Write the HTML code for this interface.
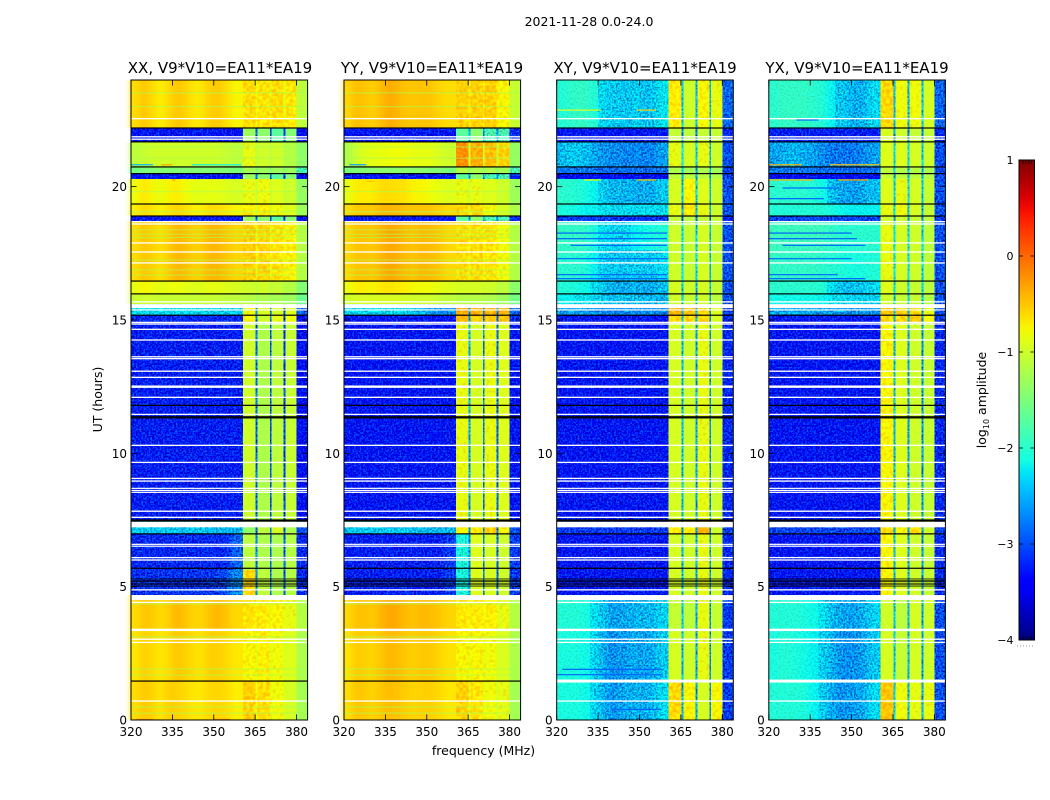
<!DOCTYPE html>
<html lang="en">
<head>
<meta charset="utf-8">
<title>2021-11-28 0.0-24.0</title>
<style>
html,body{margin:0;padding:0;background:#fff;}
svg{display:block;font-family:"DejaVu Sans","Liberation Sans",sans-serif;fill:#000;}
</style>
</head>
<body>
<svg id="figure" xmlns="http://www.w3.org/2000/svg" width="1050" height="800" viewBox="0 0 1050 800">
<defs>
<filter id="speckle" filterUnits="userSpaceOnUse" x="0" y="0" width="1050" height="800" color-interpolation-filters="sRGB">
<feTurbulence type="fractalNoise" baseFrequency="0.55" numOctaves="2" seed="4" result="t"/>
<feColorMatrix in="t" type="matrix" values="0 0 0 0 .5  2.6 0 0 0 -.8  2.6 0 0 0 -.8  0 0 0 0 1" result="n"/>
<feComposite in="SourceGraphic" in2="n" operator="arithmetic" k1="0" k2="1" k3=".55" k4="-.275" result="m"/>
<feComposite in="m" in2="SourceGraphic" operator="in"/>
</filter>
<filter id="speckle-soft" filterUnits="userSpaceOnUse" x="0" y="0" width="1050" height="800" color-interpolation-filters="sRGB">
<feGaussianBlur in="SourceGraphic" stdDeviation="3.5 0" result="b"/>
<feMerge result="s"><feMergeNode in="SourceGraphic"/><feMergeNode in="b"/></feMerge>
<feTurbulence type="fractalNoise" baseFrequency="0.55" numOctaves="2" seed="4" result="t"/>
<feColorMatrix in="t" type="matrix" values="0 0 0 0 .5  2.6 0 0 0 -.8  2.6 0 0 0 -.8  0 0 0 0 1" result="n"/>
<feComposite in="s" in2="n" operator="arithmetic" k1="0" k2="1" k3=".55" k4="-.275" result="m"/>
<feComposite in="m" in2="SourceGraphic" operator="in"/>
</filter>
<filter id="speckle-mild" filterUnits="userSpaceOnUse" x="0" y="0" width="1050" height="800" color-interpolation-filters="sRGB">
<feGaussianBlur in="SourceGraphic" stdDeviation="3.5 0" result="b"/>
<feMerge result="s"><feMergeNode in="SourceGraphic"/><feMergeNode in="b"/></feMerge>
<feTurbulence type="fractalNoise" baseFrequency="0.55" numOctaves="2" seed="7" result="t"/>
<feColorMatrix in="t" type="matrix" values="0 0 0 0 .5  2.6 0 0 0 -.8  2.6 0 0 0 -.8  0 0 0 0 1" result="n"/>
<feComposite in="s" in2="n" operator="arithmetic" k1="0" k2="1" k3=".2" k4="-.1" result="m"/>
<feComposite in="m" in2="SourceGraphic" operator="in"/>
</filter>
<filter id="soften" filterUnits="userSpaceOnUse" x="0" y="0" width="1050" height="800" color-interpolation-filters="sRGB">
<feGaussianBlur in="SourceGraphic" stdDeviation="3.5 0" result="b"/>
<feMerge><feMergeNode in="SourceGraphic"/><feMergeNode in="b"/></feMerge>
</filter>
<filter id="mottle" filterUnits="userSpaceOnUse" x="0" y="0" width="1050" height="800" color-interpolation-filters="sRGB">
<feTurbulence type="fractalNoise" baseFrequency="0.3" numOctaves="1" seed="9" result="t"/>
<feColorMatrix in="t" type="matrix" values="0 0 0 0 .5  2.4 0 0 0 -.7  0 0 0 0 .5  0 0 0 0 1" result="n"/>
<feComposite in="SourceGraphic" in2="n" operator="arithmetic" k1="0" k2="1" k3=".22" k4="-.11" result="m"/>
<feComposite in="m" in2="SourceGraphic" operator="in"/>
</filter>
<linearGradient id="jet-gradient" x1="0" y1="1" x2="0" y2="0"></linearGradient>
</defs>
<rect x="0" y="0" width="1050" height="800" fill="#fff"/>
<g id="panels"></g>
<g id="colorbar"></g>
<text x="589" y="26" font-size="12.5" text-anchor="middle">2021-11-28 0.0-24.0</text>
<text x="220" y="73" font-size="15" text-anchor="middle">XX, V9*V10=EA11*EA19</text>
<text x="432" y="73" font-size="15" text-anchor="middle">YY, V9*V10=EA11*EA19</text>
<text x="645" y="73" font-size="15" text-anchor="middle">XY, V9*V10=EA11*EA19</text>
<text x="857" y="73" font-size="15" text-anchor="middle">YX, V9*V10=EA11*EA19</text>
<text x="483.5" y="755" font-size="12.5" text-anchor="middle">frequency (MHz)</text>
<text transform="translate(102,399.5) rotate(-90)" font-size="12.5" text-anchor="middle">UT (hours)</text>
<text transform="translate(986,400) rotate(-90)" font-size="12.5" text-anchor="middle">log<tspan font-size="8" dy="3">10</tspan><tspan dy="-3"> amplitude</tspan></text>
</svg>
<script>
// ---- chart data (log10 amplitude) ----
const freqTicks = [320, 335, 350, 365, 380];
const utTicks = [0, 5, 10, 15, 20];
const colorbarTicks = [-4, -3, -2, -1, 0, 1];
const colorbarLabels = ["\u22124", "\u22123", "\u22122", "\u22121", "0", "1"];
const panelKeys = ["xx", "yy", "xy", "yx"];
const freqEdges = [320,323,326,329,332,335,338,341,344,347,350,353,356,360.5,365.2,365.9,370.3,371,375.3,376,380,384];
const utEdges = [24,23.55,22.95,22.2,21.68,20.74,20.51,20.29,19.35,18.9,18.71,17.63,16.46,15.98,15.6,15.19,14.9,13.5,11.25,9.5,7.5,6.98,5.63,4.69,3.38,1.46,0];

const spectraXX = [
[-.62,-.5,-.6,-.72,-.62,-.5,-.55,-.68,-.68,-.55,-.52,-.62,-.75,-.62,-.8,-.65,-.85,-.62,-.85,-.68,-1.1],
[-3.3,-3.3,-3.3,-3.3,-3.3,-3.3,-3.3,-3.3,-3.3,-3.3,-3.3,-3.3,-3.3,-1.3,-2.9,-1.4,-3,-1.7,-3.1,-1.45,-3.4],
[-1.1,-1.05,-1,-1,-1,-1,-1,-1,-1,-1,-1,-1.05,-1.1,-.85,-1.1,-1,-1.15,-1,-1.2,-1.15,-1.4],
[-1.55,-1.5,-1.45,-1.45,-1.45,-1.45,-1.45,-1.45,-1.45,-1.45,-1.45,-1.45,-1.5,-1.25,-1.5,-1.3,-1.5,-1.3,-1.5,-1.3,-1.85],
[-.8,-.68,-.75,-.85,-.75,-.7,-.78,-.85,-.88,-.85,-.85,-.9,-.95,-.85,-1.05,-.82,-1.05,-.9,-1.1,-1,-1.35],
[-.72,-.6,-.65,-.75,-.65,-.58,-.62,-.72,-.72,-.62,-.62,-.68,-.75,-.72,-.95,-.72,-.95,-.8,-1,-.9,-1.3],
[-.62,-.5,-.55,-.65,-.55,-.42,-.45,-.55,-.55,-.42,-.42,-.5,-.58,-.55,-.75,-.58,-.78,-.65,-.82,-.72,-1.15],
[-.85,-.75,-.8,-.88,-.82,-.8,-.85,-.9,-.9,-.85,-.85,-.9,-.95,-1,-1.1,-1,-1.15,-1.05,-1.2,-1.15,-1.45],
[-1.05,-1,-1,-1.05,-1.05,-1.05,-1.05,-1.05,-1.05,-1.05,-1.05,-1.1,-1.1,-1.15,-1.3,-1.2,-1.3,-1.25,-1.35,-1.3,-1.6],
[-2.25,-2.25,-2.3,-2.3,-2.3,-2.3,-2.3,-2.3,-2.3,-2.35,-2.35,-2.35,-2.4,-.8,-2.7,-.95,-2.8,-.95,-2.8,-.9,-2.9],
[-3.2,-3.2,-3.2,-3.2,-3.2,-3.2,-3.2,-3.2,-3.2,-3.2,-3.2,-3.2,-3.2,-.75,-2.8,-1,-2.9,-.85,-3,-.8,-3.3],
[-3.25,-3.25,-3.25,-3.25,-3.25,-3.25,-3.25,-3.25,-3.25,-3.25,-3.25,-3.25,-3.25,-1,-2.9,-1.2,-3,-1.1,-3.1,-1.05,-3.35],
[-2.4,-2.4,-2.4,-2.4,-2.4,-2.4,-2.4,-2.4,-2.4,-2.45,-2.45,-2.5,-2.5,-1.35,-2.9,-1.1,-2.8,-.95,-2.9,-1.2,-3],
[-3.2,-3.2,-3.2,-3.2,-3.2,-3.2,-3.2,-3.2,-3.2,-3.2,-3.2,-3.2,-2.9,-1.1,-2.8,-1.2,-2.9,-1.2,-3,-1.15,-3.2],
[-3.15,-3.15,-3.15,-3.15,-3.15,-3.15,-3.15,-3.15,-3.15,-3.1,-3.1,-3,-2.7,-.6,-2.7,-1.1,-2.9,-1.2,-3,-1.15,-3.2],
[-.62,-.5,-.52,-.62,-.55,-.42,-.48,-.58,-.58,-.48,-.42,-.5,-.6,-.65,-.75,-.7,-.82,-.75,-.85,-.85,-1.15],
[-.68,-.55,-.6,-.68,-.62,-.5,-.55,-.62,-.65,-.55,-.55,-.6,-.68,-.75,-.85,-.72,-.9,-.8,-.95,-.9,-1.2],
[-.62,-.52,-.55,-.68,-.55,-.55,-.6,-.68,-.68,-.6,-.58,-.62,-.72,-.55,-.8,-.62,-.85,-.8,-.95,-.95,-1.25]
];
const rowSpecXX = [0,0,0,1,2,3,1,4,5,1,6,6,7,8,9,10,11,11,11,11,12,13,14,15,16,17];

const spectraYY = [
[-.58,-.45,-.5,-.55,-.45,-.35,-.42,-.5,-.5,-.48,-.5,-.58,-.62,-.55,-.7,-.55,-.7,-.55,-.7,-.75,-1.05],
[-3.3,-3.3,-3.3,-3.3,-3.3,-3.3,-3.3,-3.3,-3.3,-3.3,-3.3,-3.3,-3.3,-1.7,-2.5,-1.4,-2.6,-1.8,-2.6,-1.8,-3.2],
[-1.2,-1,-.9,-.85,-.85,-.8,-.8,-.8,-.85,-.85,-.85,-.95,-1,-.2,-.9,-.38,-.95,-.45,-1,-.55,-1.35],
[-1.5,-1.45,-1.45,-1.4,-1.4,-1.4,-1.4,-1.4,-1.4,-1.4,-1.45,-1.45,-1.5,-1.15,-1.4,-1.2,-1.4,-1.2,-1.4,-1.25,-1.8],
[-.85,-.7,-.7,-.7,-.62,-.62,-.65,-.65,-.75,-.75,-.8,-.85,-.9,-.85,-1,-.85,-1,-.9,-1,-1,-1.3],
[-.62,-.52,-.52,-.52,-.42,-.4,-.42,-.5,-.5,-.5,-.5,-.55,-.6,-.6,-.85,-.6,-.85,-.8,-.95,-.95,-1.2],
[-.6,-.48,-.48,-.52,-.42,-.33,-.38,-.45,-.48,-.42,-.45,-.5,-.6,-.62,-.75,-.62,-.75,-.65,-.75,-.8,-1.15],
[-.8,-.72,-.72,-.75,-.68,-.65,-.7,-.72,-.78,-.78,-.8,-.85,-.9,-.95,-1,-.95,-1.05,-1,-1.1,-1.1,-1.4],
[-1,-.95,-.95,-.95,-.95,-.95,-.95,-.95,-1,-1,-1,-1.05,-1.1,-1.15,-1.2,-1.15,-1.2,-1.2,-1.3,-1.3,-1.55],
[-2.3,-2.3,-2.3,-2.3,-2.3,-2.3,-2.3,-2.35,-2.4,-2.5,-2.6,-2.7,-2.7,-.35,-2.6,-.4,-2.7,-.4,-2.7,-.4,-2.9],
[-3.3,-3.3,-3.3,-3.3,-3.3,-3.3,-3.3,-3.3,-3.3,-3.3,-3.3,-3.3,-3.3,-.45,-2.6,-.55,-2.8,-.5,-2.9,-.5,-3.2],
[-3.3,-3.3,-3.3,-3.3,-3.3,-3.3,-3.3,-3.3,-3.3,-3.3,-3.3,-3.3,-3.3,-.85,-2.6,-.95,-2.8,-.85,-2.9,-.9,-3.3],
[-2.4,-2.4,-2.4,-2.4,-2.4,-2.4,-2.4,-2.4,-2.45,-2.45,-2.5,-2.5,-2.5,-.75,-2.6,-.7,-2.7,-.55,-2.8,-.75,-3],
[-3.25,-3.25,-3.25,-3.25,-3.25,-3.25,-3.25,-3.25,-3.25,-3.25,-3.25,-3.25,-3.1,-2.1,-2.7,-.9,-2.8,-.95,-2.9,-1,-3.1],
[-.6,-.48,-.48,-.52,-.42,-.33,-.36,-.45,-.48,-.42,-.45,-.5,-.58,-.68,-.75,-.7,-.8,-.72,-.85,-.85,-1.15],
[-.65,-.52,-.55,-.58,-.5,-.42,-.45,-.52,-.55,-.5,-.52,-.58,-.65,-.75,-.85,-.75,-.88,-.8,-.92,-.92,-1.2],
[-.62,-.5,-.52,-.58,-.5,-.45,-.48,-.55,-.58,-.55,-.55,-.6,-.68,-.55,-.85,-.65,-.9,-.8,-.95,-.85,-1.25]
];
const rowSpecYY = [0,0,0,1,2,3,1,4,5,1,6,6,7,8,9,10,11,11,11,11,12,13,13,14,15,16];

const spectraXY = [
[-2.05,-2,-1.95,-1.95,-2.05,-2.3,-2.4,-2.4,-2.45,-2.35,-2.45,-2.45,-2.25,-.7,-2.4,-1,-2.5,-.75,-2.5,-.85,-2.9],
[-3.3,-3.3,-3.3,-3.3,-3.3,-3.3,-3.3,-3.3,-3.3,-3.3,-3.3,-3.3,-3.3,-1.05,-2.8,-1.1,-2.9,-1.05,-3,-1.05,-3.2],
[-2.5,-2.4,-2.4,-2.45,-2.55,-2.65,-2.7,-2.7,-2.75,-2.7,-2.75,-2.75,-2.6,-.85,-2.3,-.95,-2.4,-.85,-2.5,-1,-3],
[-2.8,-2.8,-2.8,-2.8,-2.8,-2.85,-2.85,-2.85,-2.85,-2.85,-2.85,-2.85,-2.85,-1.2,-2.5,-1.25,-2.6,-1.2,-2.6,-1.25,-3.1],
[-3.4,-3.4,-3.4,-3.4,-3.4,-3.4,-3.4,-3.4,-3.4,-3.4,-3.4,-3.4,-3.4,-1.1,-2.6,-1.1,-2.7,-1.1,-2.7,-1.15,-3.1],
[-2,-2,-2.05,-2.1,-2.2,-2.35,-2.5,-2.5,-2.5,-2.55,-2.55,-2.55,-2.4,-.95,-2.4,-.75,-2.4,-.9,-2.5,-1,-3],
[-2.1,-2.1,-2.15,-2.2,-2.2,-2.25,-2.3,-2.3,-2.3,-2.3,-2.3,-2.3,-2.3,-.85,-2.6,-.7,-2.5,-.85,-2.6,-1,-3],
[-3.1,-3.1,-3.1,-3.1,-3.1,-3.1,-3.1,-3.15,-3.15,-3.15,-3.15,-3.15,-3.15,-1.05,-2.8,-1.1,-2.9,-1.05,-3,-1.05,-3.2],
[-1.95,-1.95,-1.95,-1.95,-2.1,-2.25,-2.3,-2.35,-2.3,-2.2,-2.15,-2.1,-2.05,-1,-2.3,-1.05,-2.4,-.95,-2.5,-1.05,-3],
[-2,-2,-2,-2.05,-2.2,-2.35,-2.4,-2.4,-2.4,-2.35,-2.4,-2.4,-2.3,-1,-2.3,-1.05,-2.4,-.95,-2.5,-1.05,-3],
[-2.05,-2.05,-2.1,-2.15,-2.25,-2.4,-2.5,-2.55,-2.55,-2.5,-2.55,-2.55,-2.45,-.95,-2.4,-1,-2.5,-.95,-2.5,-1.05,-3],
[-2.2,-2.2,-2.25,-2.25,-2.3,-2.4,-2.45,-2.45,-2.45,-2.45,-2.5,-2.5,-2.5,-1,-2.5,-1.05,-2.5,-1,-2.6,-1.1,-3],
[-2.6,-2.6,-2.6,-2.6,-2.65,-2.7,-2.7,-2.7,-2.7,-2.7,-2.7,-2.7,-2.7,-.4,-2.5,-.5,-2.6,-.6,-2.7,-.9,-3.1],
[-3.3,-3.3,-3.3,-3.3,-3.3,-3.3,-3.3,-3.3,-3.3,-3.3,-3.3,-3.3,-3.3,-.6,-2.5,-.6,-2.6,-.6,-2.7,-.95,-3.2],
[-3.3,-3.3,-3.3,-3.3,-3.3,-3.3,-3.3,-3.3,-3.3,-3.3,-3.3,-3.3,-3.3,-.95,-2.5,-1,-2.6,-.85,-2.7,-1,-3.2],
[-3.1,-3.1,-3.1,-3.1,-3.1,-3.1,-3.1,-3.1,-3.1,-3.1,-3.1,-3.1,-3.1,-.7,-2.6,-.7,-2.7,-.4,-2.8,-1,-3.1],
[-2.05,-2.05,-2.05,-2.1,-2.25,-2.4,-2.6,-2.6,-2.55,-2.5,-2.5,-2.5,-2.35,-1.05,-2.5,-1.1,-2.6,-.85,-2.7,-1.05,-3.1],
[-2.1,-2.1,-2.1,-2.15,-2.3,-2.5,-2.7,-2.65,-2.6,-2.55,-2.6,-2.55,-2.4,-.95,-2.5,-1,-2.6,-.85,-2.7,-1,-3.1],
[-2.1,-2.1,-2.1,-2.15,-2.3,-2.5,-2.65,-2.6,-2.55,-2.5,-2.55,-2.5,-2.3,-.6,-2.5,-.75,-2.6,-.95,-2.7,-.75,-3.1]
];
const rowSpecXY = [0,0,0,1,2,3,4,5,6,7,8,9,10,11,12,13,14,14,14,14,15,14,14,16,17,18];

const spectraYX = [
[-2,-1.95,-1.95,-1.95,-1.95,-2,-2.05,-2.2,-2.4,-2.45,-2.55,-2.5,-2.3,-.6,-2.5,-.8,-2.5,-.8,-2.5,-.95,-2.9],
[-3.25,-3.25,-3.25,-3.25,-3.25,-3.25,-3.25,-3.25,-3.25,-3.25,-3.25,-3.25,-3.25,-.95,-2.7,-1,-2.8,-1.05,-2.9,-1.05,-3.2],
[-2.6,-2.55,-2.5,-2.5,-2.55,-2.6,-2.7,-2.8,-2.8,-2.8,-2.8,-2.7,-2.6,-.9,-2.3,-.9,-2.3,-.95,-2.4,-1,-3],
[-2.8,-2.8,-2.8,-2.8,-2.8,-2.8,-2.85,-2.85,-2.85,-2.85,-2.85,-2.85,-2.85,-1.1,-2.4,-1.15,-2.5,-1.15,-2.5,-1.2,-3],
[-3.4,-3.4,-3.4,-3.4,-3.4,-3.4,-3.4,-3.4,-3.4,-3.4,-3.4,-3.4,-3.4,-1.05,-2.5,-1.1,-2.5,-1.1,-2.6,-1.15,-3],
[-2,-2,-2,-2,-2,-2.05,-2.15,-2.4,-2.55,-2.6,-2.6,-2.55,-2.45,-.9,-2.3,-.85,-2.3,-.95,-2.4,-1.05,-3],
[-2.05,-2.05,-2.05,-2.05,-2.05,-2.05,-2.05,-2.1,-2.15,-2.2,-2.2,-2.2,-2.2,-.85,-2.4,-.8,-2.4,-.95,-2.5,-1.05,-3],
[-3.05,-3.05,-3.05,-3.05,-3.05,-3.05,-3.05,-3.05,-3.05,-3.05,-3.05,-3.05,-3.05,-1,-2.6,-1,-2.6,-1.05,-2.7,-1.1,-3.1],
[-1.9,-1.9,-1.9,-1.9,-1.9,-1.9,-1.9,-1.95,-2,-2,-2,-2,-2,-.85,-2.3,-.95,-2.3,-1,-2.4,-1.1,-3],
[-1.95,-1.95,-1.95,-1.95,-1.95,-1.95,-2,-2,-2.05,-2.1,-2.1,-2.1,-2.05,-.85,-2.3,-.95,-2.3,-1,-2.4,-1.1,-3],
[-2,-2,-2,-2,-2,-2,-2.05,-2.25,-2.4,-2.45,-2.45,-2.4,-2.3,-.9,-2.3,-1,-2.3,-1.05,-2.4,-1.1,-3],
[-2.15,-2.15,-2.15,-2.15,-2.15,-2.15,-2.2,-2.25,-2.3,-2.3,-2.35,-2.35,-2.35,-1,-2.4,-1.05,-2.4,-1.05,-2.5,-1.15,-3],
[-2.55,-2.55,-2.55,-2.55,-2.55,-2.6,-2.6,-2.6,-2.6,-2.65,-2.65,-2.65,-2.65,-.5,-2.4,-.55,-2.5,-.6,-2.5,-.85,-3],
[-3.3,-3.3,-3.3,-3.3,-3.3,-3.3,-3.3,-3.3,-3.3,-3.3,-3.3,-3.3,-3.3,-.6,-2.4,-.6,-2.5,-.55,-2.6,-.75,-3.1],
[-3.3,-3.3,-3.3,-3.3,-3.3,-3.3,-3.3,-3.3,-3.3,-3.3,-3.3,-3.3,-3.3,-.75,-2.5,-.9,-2.6,-1,-2.7,-1.05,-3.2],
[-3.05,-3.05,-3.05,-3.05,-3.05,-3.05,-3.05,-3.05,-3.05,-3.05,-3.05,-3.05,-3.05,-.65,-2.6,-.75,-2.7,-.65,-2.7,-1,-3.1],
[-2.05,-2.05,-2.05,-2.05,-2.1,-2.15,-2.25,-2.45,-2.55,-2.6,-2.6,-2.5,-2.35,-1,-2.4,-1.1,-2.5,-.95,-2.6,-1,-3],
[-2.1,-2.05,-2.05,-2.1,-2.15,-2.2,-2.35,-2.5,-2.65,-2.7,-2.65,-2.6,-2.4,-.95,-2.4,-1.05,-2.5,-.95,-2.6,-1,-3],
[-2.05,-2.05,-2.05,-2.05,-2.1,-2.2,-2.35,-2.55,-2.65,-2.65,-2.6,-2.55,-2.3,-.5,-2.4,-.8,-2.5,-.85,-2.6,-.85,-3]
];
const rowSpecYX = [0,0,0,1,2,3,4,5,6,7,8,9,10,11,12,13,14,14,14,14,15,14,14,16,17,18];

// flagged time ranges: [centre UT, thickness in hours]
const whiteBands = [[22.55,.05],[21.87,.05],[21.78,.05],[18.69,.05],[18.6,.05],[17.89,.05],[17.55,.05],[17.14,.05],[15.68,.05],[15.52,.15],[15.38,.04],[14.91,.05],[14.85,.05],[14.65,.05],[14.25,.05],[13.62,.05],[13.55,.05],[13.08,.05],[12.85,.05],[12.5,.09],[12.1,.05],[11.46,.05],[10.3,.05],[9.66,.05],[9.06,.05],[8.96,.05],[8.69,.04],[8.61,.04],[8.54,.04],[7.83,.05],[7.6,.05],[7.33,.21],[6.59,.04],[6.52,.04],[6.09,.05],[6,.05],[4.88,.05],[4.59,.19],[4.41,.05],[3.38,.09],[3.03,.05],[2.91,.05],[.71,.05]];
const blackLines = [22.2,21.68,20.74,20.49,19.35,18.9,16.46,15.98,15.18,11.8,11.37,11.33,7.5,7.46,6.98,5.69];
const blackClusterLines = [5.29,5.24,5.19,5.13,5.07,5.02];
const parallelBlackLines = [1.46];
const crossWhiteLines = [1.46];

// thin lines: parallel hands get faint green, cross hands faint blue
const parallelThinLines = [23.52,23,21.49,21.07,19.81,19.06,18.38,18.22,18.09,17.25,16.88,16.69,4.35,3.12,1.91,1.69,.49,.26];
const parallelThinValue = -1.25;
// [UT, start MHz, end MHz, value]
const accentLinesXX = [[20.82,320,328,-2.5],[20.82,331,335,-.3],[20.82,342,360,-2.2],[14.85,334,337,-.2],[14.85,347,355,-.6],[20.25,335,336,-.2],[0.02,322,328,-.2],[0.02,350,356,-.2]];
const accentLinesYY = [[20.82,322,328,-2.6],[20.2,328,331,-.5],[14.85,334,337,-.3],[14.85,347,352,-.7]];
const accentLinesXY = [[22.87,320,336,-.9],[22.87,349,356,-.6],[20.25,330,336,-.8],[20.25,349,356,-.5],[14.85,333,337,-.2],[18.26,320,360,-2.9],[18.05,320,360,-2.9],[17.8,325,360,-2.85],[17.3,320,360,-2.85],[16.7,320,360,-2.85],[16.55,320,360,-2.9],[1.9,322,358,-2.9],[1.7,320,358,-2.85],[.4,340,358,-2.9]];
const accentLinesYX = [[20.82,320,332,-.4],[20.82,342,360,-.5],[20.25,320,336,-.4],[20.25,345,356,-.3],[14.85,333,337,-.3],[19.95,325,345,-2.9],[19.55,320,340,-2.9],[18.26,320,350,-2.9],[18.05,320,352,-2.9],[17.8,325,355,-2.85],[17.3,320,350,-2.85],[16.7,320,345,-2.85],[16.55,320,355,-2.9],[22.5,330,338,-2.9]];

const colorbarTickMarks = [1023, 1026, 1029, 1031.5];

// ---- layout and helpers ----
const panelLefts = [131, 344, 556.7, 768.8];
const panelWidth = 176.6;
const axisTop = 80;
const axisBottom = 720;
const lowBandColumns = 13;
const NS = "http://www.w3.org/2000/svg";
const panelSpectra = [spectraXX, spectraYY, spectraXY, spectraYX];
const panelRows = [rowSpecXX, rowSpecYY, rowSpecXY, rowSpecYX];
const panelAccents = [accentLinesXX, accentLinesYY, accentLinesXY, accentLinesYX];

function interp(stops, t) {
  for (let i = 1; i < stops.length; i++) {
    if (t <= stops[i][0]) {
      const a = stops[i - 1], b = stops[i];
      return a[1] + (b[1] - a[1]) * (t - a[0]) / (b[0] - a[0]);
    }
  }
  return stops[stops.length - 1][1];
}
const jetR = [[0,0],[.35,0],[.66,1],[.89,1],[1,.5]];
const jetG = [[0,0],[.125,0],[.375,1],[.64,1],[.91,0],[1,0]];
const jetB = [[0,.5],[.11,1],[.34,1],[.65,0],[1,0]];
function jet(value) {
  const t = Math.max(0, Math.min(1, (value + 4) / 5));
  const c = s => Math.round(255 * interp(s, t));
  return "rgb(" + c(jetR) + "," + c(jetG) + "," + c(jetB) + ")";
}
function make(tag, attrs, parent) {
  const n = document.createElementNS(NS, tag);
  for (const k in attrs) n.setAttribute(k, attrs[k]);
  parent.appendChild(n);
  return n;
}
function scaleY(ut) { return axisBottom - ut * (axisBottom - axisTop) / 24; }
function scaleX(left, mhz) { return left + (mhz - 320) * panelWidth / 64; }

const panelsRoot = document.getElementById("panels");

panelKeys.forEach(function (key, p) {
  const left = panelLefts[p];
  const X = f => scaleX(left, f);
  const panel = make("g", {}, panelsRoot);
  
  

  const strongLow = make("g", { filter: "url(#speckle-soft)", "shape-rendering": "crispEdges" }, panel);
  
  
  const mildLow = make("g", { filter: "url(#speckle-mild)", "shape-rendering": "crispEdges" }, panel);
  
  
  const brightLow = make("g", { filter: "url(#soften)", "shape-rendering": "crispEdges" }, panel);
  
  
  const noisyHigh = make("g", { filter: "url(#speckle)", "shape-rendering": "crispEdges" }, panel);
  
  
  const plainHigh = make("g", { "shape-rendering": "crispEdges" }, panel);
  
  
  const mottledHigh = make("g", { filter: "url(#mottle)", "shape-rendering": "crispEdges" }, panel);
  
  

  function groupFor(value, c) {
    if (c < lowBandColumns) {
      if (value < -2.2) return strongLow;
      if (value < -1.7) return mildLow;
      return brightLow;
    }
    if (value < -1.7) return noisyHigh;
    return value > -.9 ? mottledHigh : plainHigh;
  }

  panelRows[p].forEach(function (specIndex, r) {
    const spectrum = panelSpectra[p][specIndex];
    spectrum.forEach(function (value, c) {
      const cell = make("rect", {
        x: X(freqEdges[c]).toFixed(2),
        y: scaleY(utEdges[r]).toFixed(2),
        width: (X(freqEdges[c + 1]) - X(freqEdges[c])).toFixed(2),
        height: (scaleY(utEdges[r + 1]) - scaleY(utEdges[r])).toFixed(2),
        fill: jet(value)
      }, groupFor(value, c));
      
      
    });
  });

  if (p < 2) {
    parallelThinLines.forEach(function (ut) {
      const line = make("rect", { x: left, y: scaleY(ut) - .5, width: panelWidth, height: 1, fill: jet(parallelThinValue), "fill-opacity": .7 }, panel);
      
      
    });
  }
  panelAccents[p].forEach(function (a) {
    const line = make("rect", { x: X(a[1]), y: scaleY(a[0]) - .6, width: X(a[2]) - X(a[1]), height: 1.2, fill: jet(a[3]) }, panel);
    
    
  });

  whiteBands.forEach(function (b) {
    const band = make("rect", { x: left, y: scaleY(b[0] + b[1] / 2), width: panelWidth, height: Math.max(1.2, b[1] * (axisBottom - axisTop) / 24), fill: "#fff" }, panel);
    
    
  });
  if (p >= 2) {
    crossWhiteLines.forEach(function (ut) {
      const band = make("rect", { x: left, y: scaleY(ut) - 1.5, width: panelWidth, height: 3, fill: "#fff" }, panel);
      
      
    });
  }
  blackLines.concat(p < 2 ? parallelBlackLines : []).forEach(function (ut) {
    const line = make("rect", { x: left, y: scaleY(ut) - .6, width: panelWidth, height: 1.2, fill: "#000" }, panel);
    
    
  });
  blackClusterLines.forEach(function (ut) {
    const line = make("rect", { x: left, y: scaleY(ut) - .35, width: panelWidth, height: .7, fill: "#000" }, panel);
    
    
  });

  const spine = make("rect", { x: left, y: axisTop, width: panelWidth, height: axisBottom - axisTop, fill: "none", stroke: "#000", "stroke-width": 1 }, panel);
  
  

  freqTicks.forEach(function (f) {
    const x = X(f);
    const bottom = make("line", { x1: x, x2: x, y1: axisBottom, y2: axisBottom - 5.6, stroke: "#000", "stroke-width": .8 }, panel);
    
    
    const top = make("line", { x1: x, x2: x, y1: axisTop, y2: axisTop + 5.6, stroke: "#000", "stroke-width": .8 }, panel);
    
    
    const label = make("text", { x: x, y: 736, "font-size": 12, "text-anchor": "middle" }, panel);
    label.textContent = String(f);
    
    
  });
  utTicks.forEach(function (ut) {
    const y = scaleY(ut);
    const l = make("line", { x1: left, x2: left + 5.6, y1: y, y2: y, stroke: "#000", "stroke-width": .8 }, panel);
    
    
    const r = make("line", { x1: left + panelWidth, x2: left + panelWidth - 5.6, y1: y, y2: y, stroke: "#000", "stroke-width": .8 }, panel);
    
    
    const label = make("text", { x: left - 4, y: y + 4.5, "font-size": 12, "text-anchor": "end" }, panel);
    label.textContent = String(ut);
    
    
  });
});

// ---- colorbar ----
const gradient = document.getElementById("jet-gradient");
for (let i = 0; i <= 40; i++) {
  make("stop", { offset: (i / 40), "stop-color": jet(-4 + 5 * i / 40) }, gradient);
}
const cbRoot = document.getElementById("colorbar");
const cbLeft = 1019, cbRight = 1034.5, cbTop = 160, cbBottom = 640;
const cbY = v => cbBottom - (v + 4) * (cbBottom - cbTop) / 5;
const cbRamp = make("rect", { x: cbLeft, y: cbTop, width: cbRight - cbLeft, height: cbBottom - cbTop, fill: "url(#jet-gradient)", stroke: "#000", "stroke-width": 1 }, cbRoot);


colorbarTicks.forEach(function (v, i) {
  const y = cbY(v);
  const a = make("line", { x1: cbLeft, x2: cbLeft + 4, y1: y, y2: y, stroke: "#000", "stroke-width": .8 }, cbRoot);
  
  
  const b = make("line", { x1: cbRight, x2: cbRight - 4, y1: y, y2: y, stroke: "#000", "stroke-width": .8 }, cbRoot);
  
  
  const label = make("text", { x: 1013.5, y: y + 4, "font-size": 11, "text-anchor": "end" }, cbRoot);
  label.textContent = colorbarLabels[i];
  
  
});
colorbarTickMarks.forEach(function (x) {
  const t = make("line", { x1: x, x2: x, y1: cbTop, y2: cbTop + 4, stroke: "#000", "stroke-width": .7 }, cbRoot);
  
  
  const u = make("line", { x1: x, x2: x, y1: cbBottom, y2: cbBottom - 4, stroke: "#000", "stroke-width": .7 }, cbRoot);
  
  
});
const cbDots = make("line", { x1: 1017, x2: 1035, y1: 646, y2: 646, stroke: "#999", "stroke-width": 1, "stroke-dasharray": "1 2" }, cbRoot);


</script>
</body>
</html>
